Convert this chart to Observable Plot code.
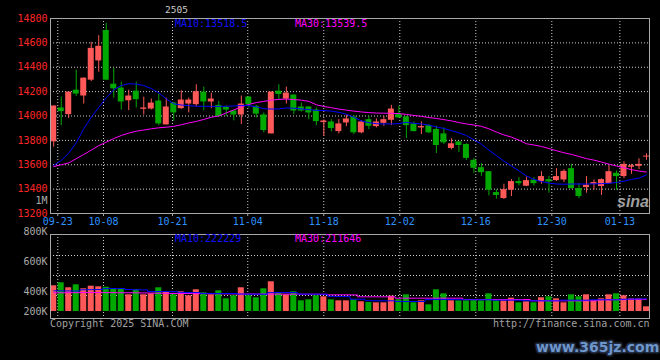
<!DOCTYPE html>
<html><head><meta charset="utf-8">
<script src="https://cdn.jsdelivr.net/npm/d3@7"></script>
<script src="https://cdn.jsdelivr.net/npm/@observablehq/plot@0.6"></script>
<style>
html,body{margin:0;padding:0;background:#000;}
#wrap{position:relative;width:660px;height:360px;background:#000;overflow:hidden;font-family:"DejaVu Sans Mono",monospace;}
#wrap svg{position:absolute;left:0;}
.t{position:absolute;font-size:10px;line-height:10px;white-space:nowrap;font-family:"DejaVu Sans Mono",monospace;}
</style></head><body><div id="wrap"></div>
<script>
// ---- data ----
const title = "2505";
const opens = [13788,14066,14011,14212,14164,14294,14452,14702,14261,14229,
14125,14204,14055,14057,14123,13927,14106,14060,14098,14093,
14196,14115,14087,14071,14041,14008,14155,14079,14008,13853,
14204,14139,14172,14074,14074,14049,13946,13951,13872,13943,
13992,13862,13970,13913,13940,13965,14016,13992,13935,13902,
13921,13889,13853,13734,13788,13766,13636,13576,13543,13372,
13323,13391,13462,13424,13473,13462,13478,13470,13475,13568,
13405,13413,13440,13421,13445,13530,13503,13579,13587,13663];
const closes = [14082,14036,14196,14180,14310,14555,14572,14294,14223,14115,
14164,14134,14066,14106,13935,14074,14025,14131,14131,14199,
14115,14139,13995,14049,14008,14098,14093,14015,13881,14196,
14177,14188,14041,14041,14025,13954,13959,13897,13935,13976,
13862,13951,13916,13951,13970,14057,13984,13921,13872,13913,
13862,13758,13780,13772,13758,13652,13571,13535,13391,13348,
13396,13462,13445,13470,13445,13503,13459,13503,13546,13405,
13339,13432,13454,13478,13543,13503,13603,13592,13603,13671];
const highs = [14082,14155,14196,14376,14315,14604,14659,14760,14392,14278,
14212,14278,14155,14140,14180,14147,14110,14207,14147,14256,
14237,14188,14120,14082,14041,14164,14160,14087,14025,14196,
14256,14237,14172,14106,14074,14066,13968,13970,13970,14008,
14005,13960,13998,13976,13998,14087,14079,13998,13951,13951,
13930,13916,13902,13813,13788,13772,13652,13609,13543,13394,
13440,13478,13494,13500,13494,13543,13505,13568,13560,13603,
13445,13503,13475,13484,13592,13549,13625,13603,13649,13690];
const lows = [13745,13921,13979,14161,14098,14283,14359,14290,14147,14049,
14044,14066,14008,14050,13921,13927,13957,14055,14025,14076,
14044,14060,13990,13995,13960,13930,14066,13984,13862,13853,
14136,14098,14011,14033,13970,13921,13832,13870,13853,13913,
13848,13855,13889,13902,13916,13921,13980,13815,13870,13848,
13855,13693,13766,13723,13701,13636,13530,13505,13345,13318,
13315,13339,13426,13420,13426,13440,13367,13462,13454,13400,
13323,13367,13391,13348,13440,13391,13486,13522,13560,13636];
const ma10 = [13595,13635,13695,13780,13895,13990,14070,14150,14215,14250,
14265,14262,14250,14225,14190,14140,14100,14090,14085,14080,
14080,14079,14079,14080,14082,14087,14085,14075,14060,14057,
14058,14066,14064,14058,14052,14046,14045,14040,14030,14015,
13990,13960,13945,13937,13935,13935,13938,13948,13940,13935,
13925,13910,13898,13880,13862,13840,13805,13768,13720,13675,
13630,13590,13550,13508,13480,13462,13450,13442,13440,13442,
13442,13442,13443,13445,13448,13455,13465,13480,13490,13518];
const ma30 = [13585,13600,13615,13650,13684,13720,13757,13785,13815,13840,
13860,13875,13885,13895,13903,13908,13915,13928,13943,13955,
13972,13990,14000,14025,14050,14075,14095,14110,14120,14130,
14136,14139,14135,14130,14120,14092,14078,14068,14057,14048,
14040,14033,14028,14024,14023,14022,14020,14013,14005,13997,
13987,13980,13970,13960,13946,13935,13926,13915,13895,13868,
13845,13827,13802,13772,13762,13750,13733,13715,13698,13685,
13668,13650,13638,13622,13605,13590,13575,13560,13548,13540];
// volume, thousands of lots
const volumes = [450,502,415,467,397,443,432,425,397,397,
292,380,292,310,415,350,292,345,275,380,
327,292,362,222,275,415,275,240,397,520,
327,292,345,187,205,275,257,205,187,187,
205,170,158,152,152,268,205,292,152,187,
117,380,310,187,187,187,205,187,310,187,
187,233,152,170,152,240,257,222,152,292,
257,292,187,222,292,310,275,222,222,82];
const volMa10 = [362,362,360,358,380,382,384,400,402,402,
385,380,378,352,350,350,348,335,332,332,
318,316,315,315,315,305,303,303,303,330,
332,332,332,305,303,303,303,265,262,260,
215,215,190,188,187,187,176,175,175,175,
208,210,210,210,206,205,205,205,205,198,
198,198,198,188,187,187,187,187,198,198,
198,198,205,205,205,205,215,218,220,222];
const volMa30 = [327,327,330,330,332,332,332,330,330,328,
328,326,325,322,320,318,316,315,314,313,
312,311,310,309,308,307,306,305,305,304,
304,304,303,303,303,303,300,292,292,292,
290,257,257,257,257,257,233,233,233,233,
233,233,233,233,233,210,210,210,210,210,
210,210,210,210,187,187,187,187,187,187,
187,187,187,205,205,208,208,210,211,212];
const dateLabels = ["09-23","10-08","10-21","11-04","11-18","12-02","12-16","12-30","01-13"];
const dateTickPos = [0.54,6.63,15.83,25.86,35.99,46.12,56.25,66.38,75.45];
const priceTicks = [14800,14600,14400,14200,14000,13800,13600,13400,13200];
const priceGrid = [14600,14400,14200,14000,13800,13600,13400];
const priceExtraLabel = [{t:"1M", v:13306}];
const volTickLabels = ["800K","600K","400K","200K"];
const volTickPos = [1400,875,350,0];
const volGrid = [980,630,280];
const maLegend = {price10:"MA10:13518.5", price30:"MA30:13539.5", vol10:"MA10:222229", vol30:"MA30:211646"};
const copyright = "Copyright 2025 SINA.COM";
const url = "http://finance.sina.com.cn";

// ---- build ----
const RED = "#ff5858", GREEN = "#00a800", GRID = "#cfcfcf", FRAME = "#a8a8a8";
const candles = opens.map((o,i)=>({i, o, c:closes[i], h:highs[i], l:lows[i], v:volumes[i],
  m10:ma10[i], m30:ma30[i], vm10:volMa10[i], vm30:volMa30[i], col: closes[i] >= opens[i] ? RED : GREEN}));
const X_DOMAIN = [-0.43, 79.4];
const dateMap = new Map(dateTickPos.map((p,k)=>[p,dateLabels[k]]));
const volMap = new Map(volTickPos.map((p,k)=>[p,volTickLabels[k]]));
const font = "'DejaVu Sans Mono', monospace";
const dot = {stroke: GRID, strokeOpacity: 1, strokeDasharray: "1,2"};

const price = Plot.plot({
  width: 660, height: 226,
  marginLeft: 50, marginRight: 11, marginTop: 18, marginBottom: 13,
  style: {background: "transparent", fontFamily: font, fontSize: "10px", overflow: "visible"},
  x: {domain: X_DOMAIN},
  y: {domain: [13200, 14800]},
  marks: [
    Plot.gridY(priceGrid, dot),
    Plot.gridX(dateTickPos, dot),
    Plot.axisY(priceTicks, {tickSize: 0, tickPadding: 3, fill: "#ff2626", fontSize: 10, label: null,
      tickFormat: d => String(d)}),
    Plot.axisX(dateTickPos, {tickSize: 3, tickPadding: 1, stroke: FRAME, fill: "#2f92ff", fontSize: 10,
      tickFormat: d => dateMap.get(d), label: null}),
    Plot.text(priceExtraLabel, {y: "v", text: "t", frameAnchor: "left", dx: -3, textAnchor: "end", fill: "#aaaaaa", fontSize: 10}),
    Plot.ruleX(candles, {x: "i", y1: "l", y2: "h", stroke: "col", strokeWidth: 1}),
    Plot.rect(candles, {x1: d => d.i - 0.4, x2: d => d.i + 0.4, y1: "o", y2: "c", fill: "col"}),
    Plot.line(candles, {x: "i", y: "m30", stroke: "#ff00ff", strokeWidth: 1}),
    Plot.line(candles, {x: "i", y: "m10", stroke: "#0000ff", strokeWidth: 1}),
    Plot.frame({stroke: FRAME})
  ]
});
price.style.top = "0px";

const vol = Plot.plot({
  width: 660, height: 134,
  marginLeft: 50, marginRight: 11, marginTop: 8, marginBottom: 42,
  style: {background: "transparent", fontFamily: font, fontSize: "10px", overflow: "visible"},
  x: {domain: X_DOMAIN, axis: null},
  y: {domain: [0, 1400], range: [85, 5]},
  marks: [
    Plot.gridY(volGrid, dot),
    Plot.gridX(dateTickPos, dot),
    Plot.axisY(volTickPos, {tickSize: 0, tickPadding: 3, fill: "#aaaaaa", fontSize: 10,
      tickFormat: d => volMap.get(d), label: null}),
    Plot.rect(candles, {x1: d => d.i - 0.4, x2: d => d.i + 0.4, y1: 0, y2: "v", fill: "col"}),
    Plot.line(candles, {x: "i", y: "vm30", stroke: "#ff00ff", curve: "step", strokeWidth: 1}),
    Plot.line(candles, {x: "i", y: "vm10", stroke: "#0000ff", curve: "step", strokeWidth: 1}),
    Plot.frame({stroke: FRAME})
  ]
});
vol.style.top = "226px";

const wrap = document.getElementById("wrap");
wrap.appendChild(price);
wrap.appendChild(vol);

function addText(txt, left, top, color, extra) {
  const d = document.createElement("div");
  d.className = "t";
  d.textContent = txt;
  d.style.left = left + "px";
  d.style.top = top + "px";
  d.style.color = color;
  if (extra) Object.assign(d.style, extra);
  wrap.appendChild(d);
  return d;
}
addText(title, 165, 5, "#cccccc", {fontSize: "9.5px"});
addText(maLegend.price10, 175, 19, "#1010ff");
addText(maLegend.price30, 295, 19, "#ff00ff");
addText(maLegend.vol10, 175, 233.5, "#1010ff");
addText(maLegend.vol30, 295, 233.5, "#ff00ff");
addText(copyright, 50, 319, "#a0a0a0");
addText(url, 493, 319, "#a0a0a0");
addText("sina", 617, 194, "#bbbbbb", {fontFamily: "'Liberation Sans', sans-serif", fontWeight: "bold", fontStyle: "italic", fontSize: "16px", lineHeight: "16px", opacity: "0.85"});
addText("www.365jz.com", 536, 339, "#6f96c9", {fontFamily: "'DejaVu Sans', sans-serif", fontWeight: "bold", fontSize: "14px", lineHeight: "16px",
  textShadow: "-1px -1px 0 #1d2c4a, 1px -1px 0 #1d2c4a, -1px 1px 0 #1d2c4a, 1px 1px 0 #1d2c4a, 0 0 3px #ddd"});
</script>
</body></html>
